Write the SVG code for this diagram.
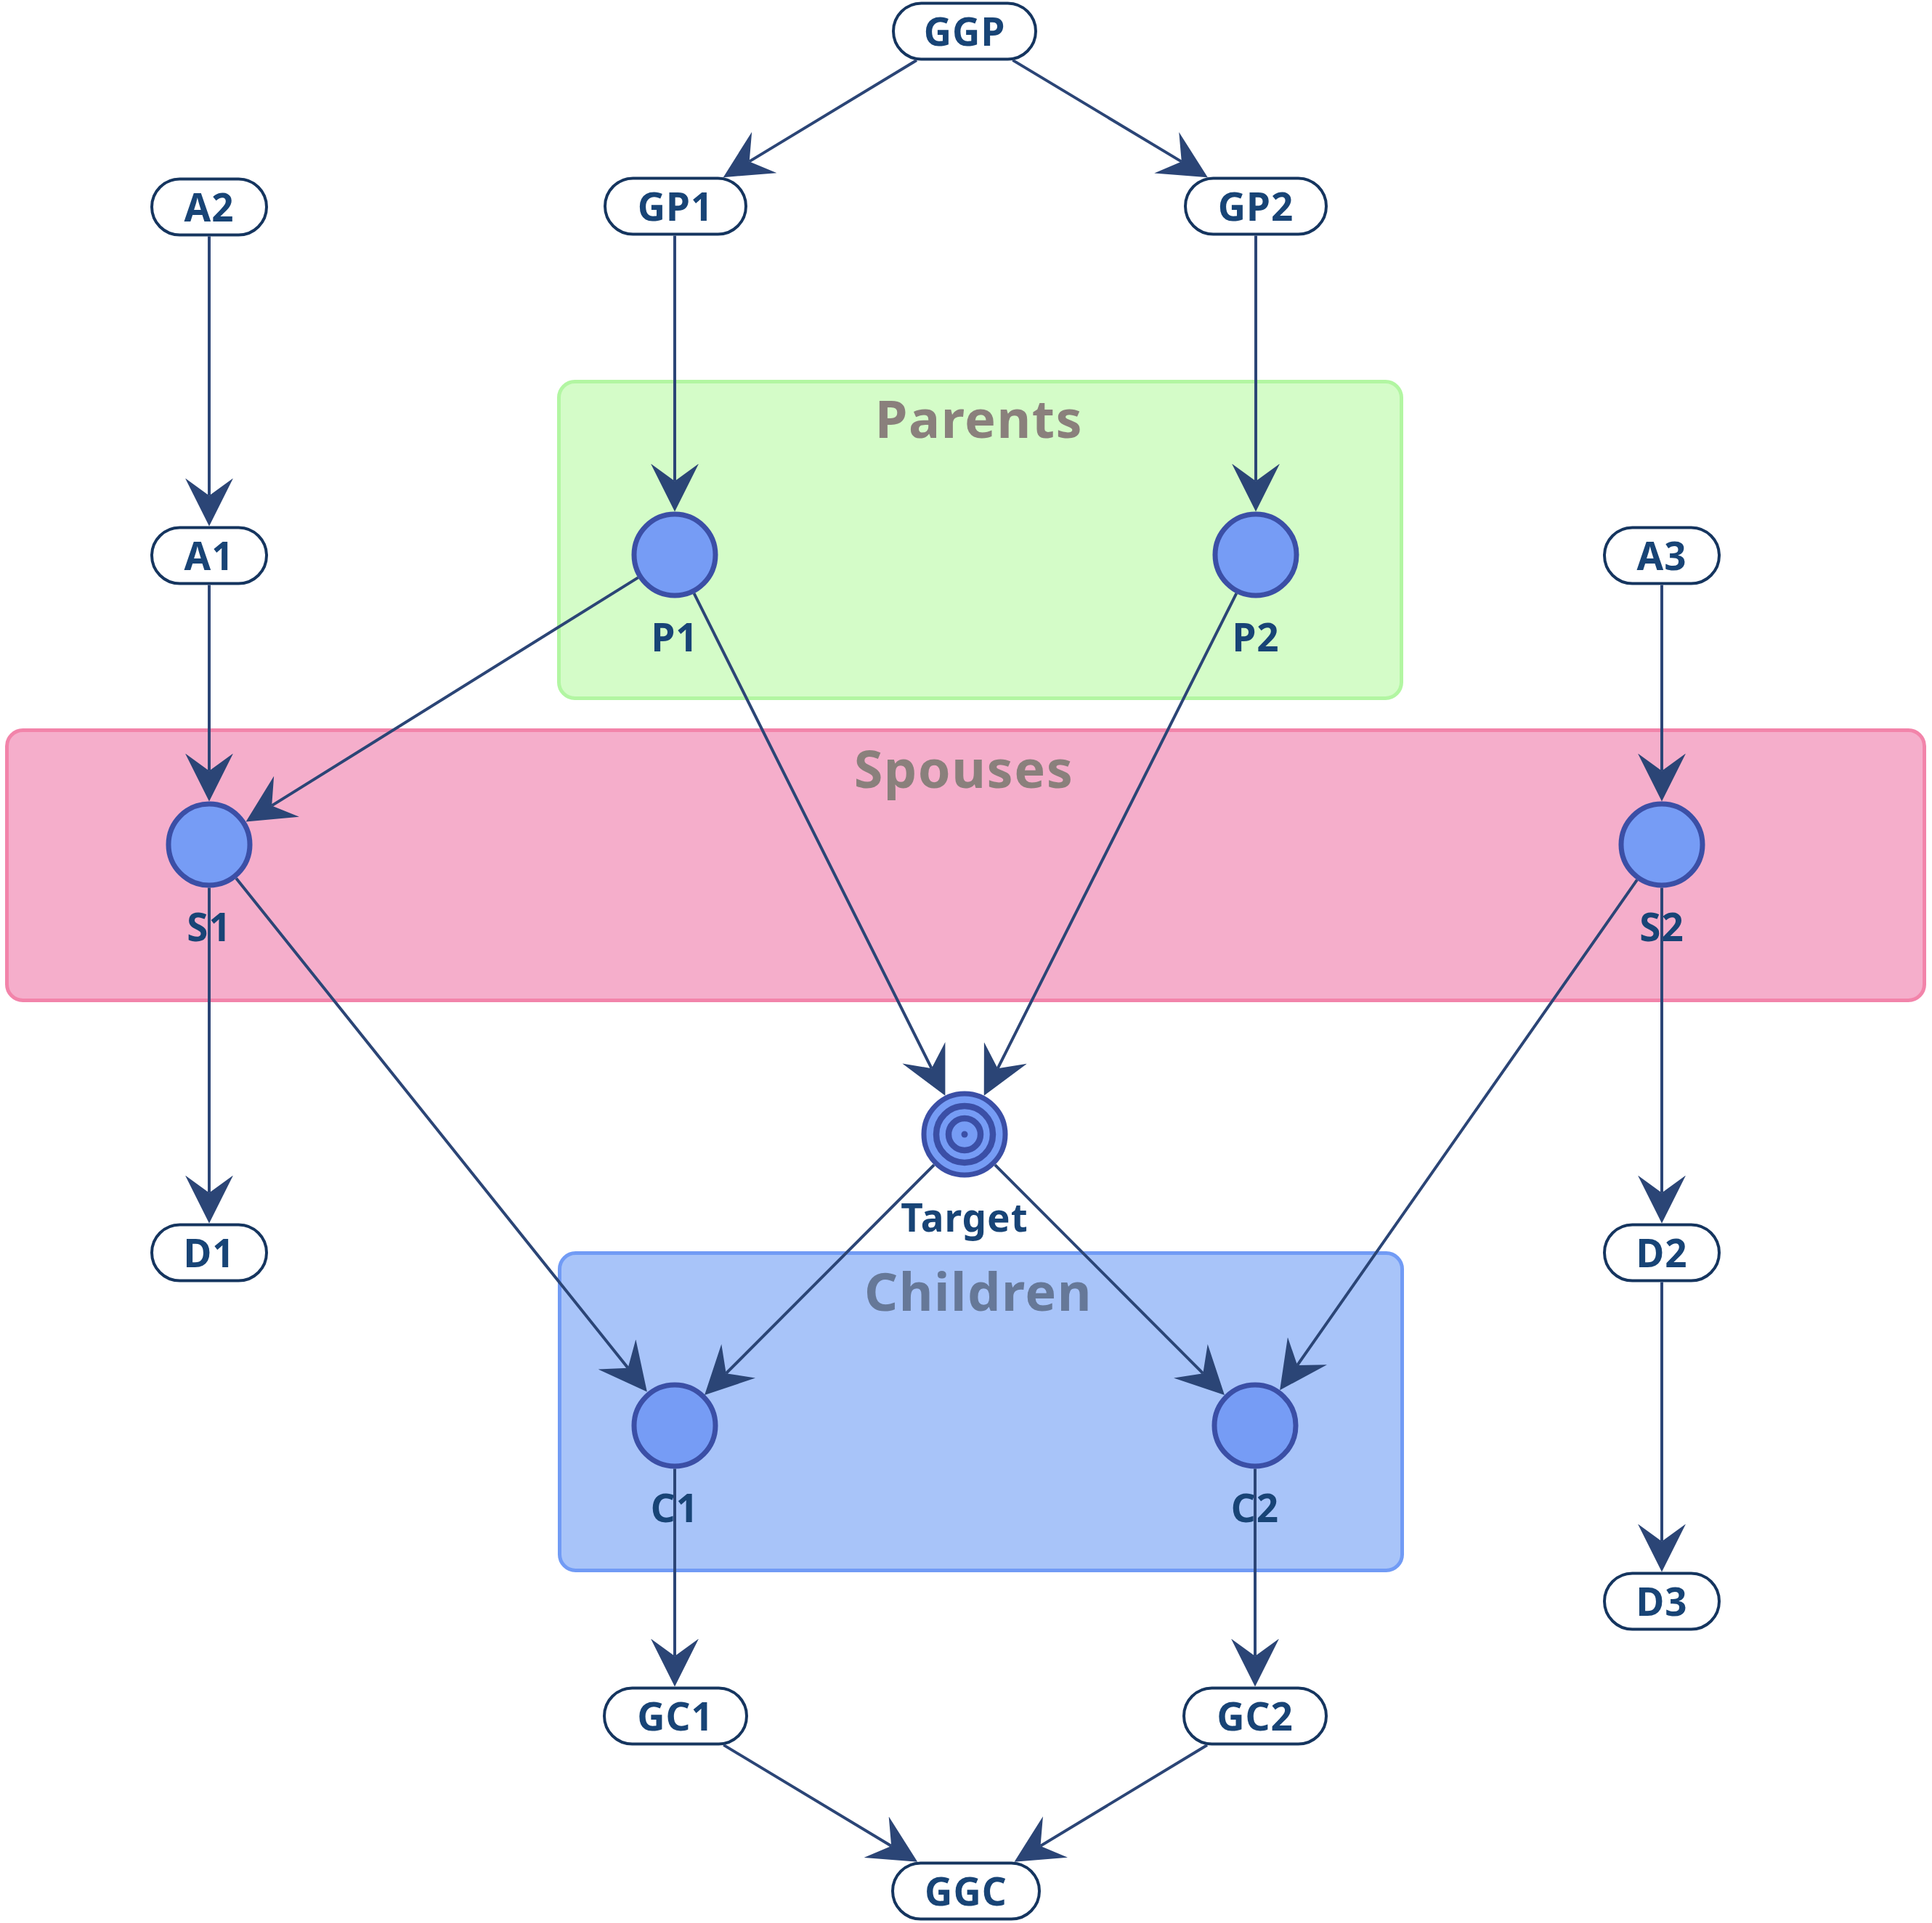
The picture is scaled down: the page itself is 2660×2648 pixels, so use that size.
<svg xmlns="http://www.w3.org/2000/svg" width="2660" height="2648" viewBox="0 0 2660 2648">
<style>
.grp{stroke-width:5}
.gtitle{font-family:"Noto Sans","Open Sans",sans-serif;font-weight:bold;font-size:72px;letter-spacing:1.5px;text-anchor:middle}
.cap{fill:#ffffff;stroke:#15355f;stroke-width:4}
.circ{fill:#769cf5;stroke:#3b4fa6;stroke-width:7}
.lbl{font-family:"Noto Sans","Open Sans",sans-serif;font-weight:bold;font-size:53px;letter-spacing:1px;fill:#184476;text-anchor:middle}
.edge{stroke:#2b4576;stroke-width:4;fill:none;marker-end:url(#arr)}
.ring{fill:none;stroke:#3b4fa6;stroke-width:8.5}
</style>
<defs>
<marker id="arr" markerUnits="userSpaceOnUse" viewBox="0 0 66 66" markerWidth="66" markerHeight="66" refX="24" refY="33" orient="auto">
<path d="M66,33 L0,0 L24,33 L0,66 Z" fill="#2b4576"/>
</marker>
</defs>
<rect width="2660" height="2648" fill="#ffffff"/>
<g id="clusters">
<g id="cluster-parents">
<rect class="grp" x="769.5" y="525.5" width="1160" height="436" rx="22" fill="#d4fcc8" stroke="#b2f6a2"/>
<text class="gtitle" x="1348" y="603" fill="#8a807c">Parents</text>
</g>
<g id="cluster-spouses">
<rect class="grp" x="9.5" y="1005.5" width="2640" height="372" rx="22" fill="#f5aecb" stroke="#f284aa"/>
<text class="gtitle" x="1327" y="1085" fill="#8a807c">Spouses</text>
</g>
<g id="cluster-children">
<rect class="grp" x="770.5" y="1725.5" width="1160" height="437" rx="22" fill="#a8c4f9" stroke="#719bf5"/>
<text class="gtitle" x="1347" y="1805" fill="#667898">Children</text>
</g>
</g>
<g id="nodes">
<g id="GGP"><rect class="cap" x="1230" y="4.5" width="196" height="77" rx="38.5"/><text class="lbl" x="1328" y="63">GGP</text></g>
<g id="GP1"><rect class="cap" x="833" y="245.5" width="194" height="77" rx="38.5"/><text class="lbl" x="930" y="304">GP1</text></g>
<g id="GP2"><rect class="cap" x="1632" y="245.5" width="194" height="77" rx="38.5"/><text class="lbl" x="1729" y="304">GP2</text></g>
<g id="A2"><rect class="cap" x="209" y="246.5" width="158" height="77" rx="38.5"/><text class="lbl" x="288" y="305">A2</text></g>
<g id="A1"><rect class="cap" x="209" y="726.5" width="158" height="77" rx="38.5"/><text class="lbl" x="288" y="785">A1</text></g>
<g id="A3"><rect class="cap" x="2209" y="726.5" width="158" height="77" rx="38.5"/><text class="lbl" x="2288" y="785">A3</text></g>
<g id="P1"><circle class="circ" cx="929" cy="764" r="56"/><text class="lbl" x="929" y="897">P1</text></g>
<g id="P2"><circle class="circ" cx="1729" cy="764" r="56"/><text class="lbl" x="1729" y="897">P2</text></g>
<g id="S1"><circle class="circ" cx="288" cy="1163" r="56"/><text class="lbl" x="288" y="1296">S1</text></g>
<g id="S2"><circle class="circ" cx="2288" cy="1163" r="56"/><text class="lbl" x="2288" y="1296">S2</text></g>
<g id="Target"><circle class="circ" cx="1328" cy="1562" r="56" stroke-width="8"/><circle class="ring" cx="1328" cy="1562" r="39"/><circle class="ring" cx="1328" cy="1562" r="22"/><circle cx="1328" cy="1562" r="4.5" fill="#3b4fa6"/><text class="lbl" x="1328" y="1696">Target</text></g>
<g id="D1"><rect class="cap" x="209" y="1686.5" width="158" height="77" rx="38.5"/><text class="lbl" x="288" y="1745">D1</text></g>
<g id="D2"><rect class="cap" x="2209" y="1686.5" width="158" height="77" rx="38.5"/><text class="lbl" x="2288" y="1745">D2</text></g>
<g id="D3"><rect class="cap" x="2209" y="2166.5" width="158" height="77" rx="38.5"/><text class="lbl" x="2288" y="2225">D3</text></g>
<g id="C1"><circle class="circ" cx="929" cy="1963" r="56"/><text class="lbl" x="929" y="2096">C1</text></g>
<g id="C2"><circle class="circ" cx="1728" cy="1963" r="56"/><text class="lbl" x="1728" y="2096">C2</text></g>
<g id="GC1"><rect class="cap" x="832" y="2324.5" width="196" height="77" rx="38.5"/><text class="lbl" x="930" y="2383">GC1</text></g>
<g id="GC2"><rect class="cap" x="1630" y="2324.5" width="196" height="77" rx="38.5"/><text class="lbl" x="1728" y="2383">GC2</text></g>
<g id="GGC"><rect class="cap" x="1229" y="2565.5" width="202" height="77" rx="38.5"/><text class="lbl" x="1330" y="2624">GGC</text></g>
</g>
<g id="connectors">
<path class="edge" d="M1262,83 L1031.7,222.4"/>
<path class="edge" d="M1394.4,82.9 L1626.8,222.6"/>
<path class="edge" d="M288,325.5 L288,682.5"/>
<path class="edge" d="M929,324.5 L929,662.5"/>
<path class="edge" d="M1729,324.5 L1729,662.5"/>
<path class="edge" d="M288,805.5 L288,1061.5"/>
<path class="edge" d="M2288,805.5 L2288,1061.5"/>
<path class="edge" d="M878.5,795.4 L374.2,1109.4"/>
<path class="edge" d="M955.6,817.2 L1282.6,1471.2"/>
<path class="edge" d="M1702.3,817.2 L1373.6,1471.3"/>
<path class="edge" d="M288,1222.5 L288,1642.5"/>
<path class="edge" d="M2288,1222.5 L2288,1642.5"/>
<path class="edge" d="M325.2,1209.5 L864.6,1883.7"/>
<path class="edge" d="M2253.9,1211.7 L1786.2,1879.9"/>
<path class="edge" d="M1286,1604.1 L999.7,1891.2"/>
<path class="edge" d="M1370,1604.1 L1656.3,1891.2"/>
<path class="edge" d="M2288,1765.5 L2288,2122.5"/>
<path class="edge" d="M929,2022.5 L929,2280.5"/>
<path class="edge" d="M1728,2022.5 L1728,2280.5"/>
<path class="edge" d="M996.3,2402.9 L1227.2,2542"/>
<path class="edge" d="M1662,2403 L1432.5,2541.9"/>
</g>
</svg>
